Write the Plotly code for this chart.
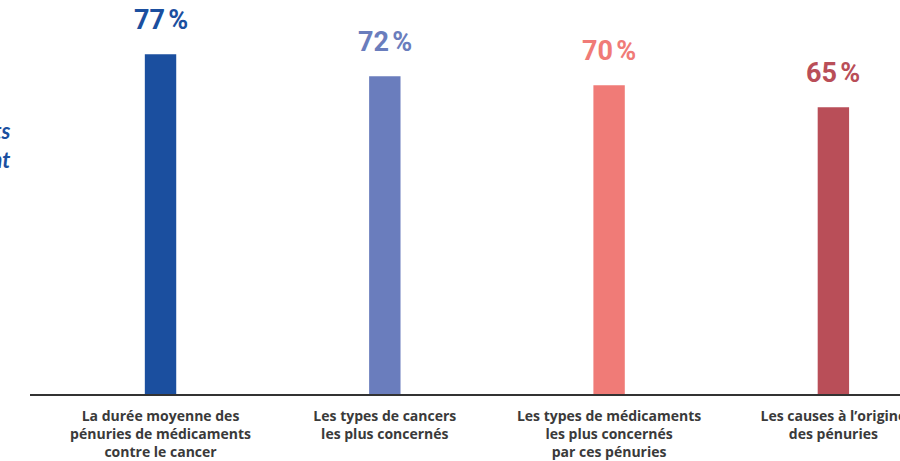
import plotly.graph_objects as go

# data
categories = [
    "La durée moyenne des<br>pénuries de médicaments<br>contre le cancer",
    "Les types de cancers<br>les plus concernés",
    "Les types de médicaments<br>les plus concernés<br>par ces pénuries",
    "Les causes à l’origine<br>des pénuries",
]
values = [77, 72, 70, 65]
colors = ["#1b4f9f", "#6a7dbd", "#f07b77", "#b94e58"]

xpos = list(range(len(categories)))

fig = go.Figure()

fig.add_trace(go.Bar(
    x=xpos,
    y=values,
    width=0.14,
    marker=dict(color=colors, line=dict(width=0)),
    hoverinfo="skip",
))

# value labels above each bar
for x, v, c in zip(xpos, values, colors):
    fig.add_annotation(
        x=x, y=v,
        text=f"{v}\u202f%",
        showarrow=False,
        yanchor="bottom",
        yshift=16,
        font=dict(family="Roboto, Liberation Sans", size=27, color=c, weight=700),
    )

# left title, mostly cut off by the frame
fig.add_annotation(
    xref="paper", yref="paper",
    x=-0.0207, y=0.632,
    xanchor="right", yanchor="middle",
    align="right",
    text="<i><b>Les patients<br>l'ignorent</b></i>",
    showarrow=False,
    font=dict(family="Lato, Open Sans", size=22, color="#1b4f9f"),
)

fig.update_layout(
    width=900,
    height=461,
    margin=dict(l=30, r=0, t=0, b=67),
    paper_bgcolor="white",
    plot_bgcolor="white",
    showlegend=False,
    xaxis=dict(
        range=[-0.582, 3.297],
        tickvals=xpos,
        ticktext=categories,
        showgrid=False,
        zeroline=False,
        showline=True,
        linecolor="#333333",
        linewidth=2,
        ticks="",
        automargin=False,
        ticklabelstandoff=8,
        ticklabeloverflow="allow",
        tickfont=dict(family="Open Sans, Lato", size=14, color="#3a3a3a", weight=700),
    ),
    yaxis=dict(
        range=[0, 89.3],
        visible=False,
        showgrid=False,
        zeroline=False,
        automargin=False,
    ),
)

# drop the browser's default body margin so the figure sits at the page corner
fig.write_html("out.html", config={"displayModeBar": False},
               post_script="document.body.style.margin='0';")
